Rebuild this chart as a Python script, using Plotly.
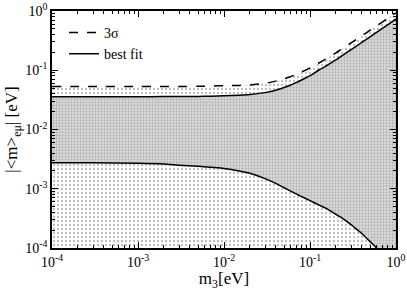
import plotly.graph_objects as go

# data
m3 = [1e-4, 3e-4, 1e-3, 2e-3, 3e-3, 5e-3, 0.007, 0.01, 0.015, 0.02, 0.03, 0.04, 0.05, 0.058, 0.07, 0.0766,
      0.1, 0.13, 0.15, 0.2, 0.223, 0.3, 0.333, 0.4, 0.5, 0.6, 0.8, 1.0]
best_upper = [0.0358, 0.0358, 0.0358, 0.0359, 0.0360, 0.0362, 0.0365, 0.037, 0.0378, 0.0388, 0.0419, 0.0458, 0.051,
              0.0554, 0.0624, 0.0664, 0.081, 0.103, 0.115, 0.150, 0.166, 0.222, 0.245, 0.295, 0.367, 0.44, 0.585, 0.733]
sigma_upper = [0.053, 0.053, 0.053, 0.0531, 0.0532, 0.0535, 0.054, 0.055, 0.0555, 0.0565, 0.060, 0.0655, 0.072,
               0.077, 0.086, 0.091, 0.11, 0.135, 0.152, 0.197, 0.218, 0.29, 0.32, 0.38, 0.475, 0.565, 0.75, 0.93]
best_lower = [0.00275, 0.00274, 0.0027, 0.00262, 0.0025, 0.0024, 0.0023, 0.0022, 0.002, 0.00182, 0.00148, 0.00123,
              0.00104, 0.00093, 0.00081, 0.00076, 0.00063, 0.000524, 0.000474, 0.000371, 0.000338, 0.000248, 0.000219,
              0.000176, 0.000128, 0.0000991, 0.0000645, 0.0000462]
floor = [1e-5] * len(m3)

xticks = [1e-4, 1e-3, 1e-2, 1e-1, 1]
xtick_text = ["10<sup>-4</sup>", "10<sup>-3</sup>", "10<sup>-2</sup>", "10<sup>-1</sup>", "10<sup>0</sup>"]
yticks = [1e-4, 1e-3, 1e-2, 1e-1, 1]
ytick_text = ["10<sup>-4</sup>", "10<sup>-3</sup>", "10<sup>-2</sup>", "10<sup>-1</sup>", "10<sup>0</sup>"]

minor_vals = [k * 10 ** e for e in range(-4, 0) for k in range(2, 10)]

sparse = dict(shape=".", size=4, solidity=0.25, fgcolor="#777777", bgcolor="white")
dense = dict(shape=".", size=3, solidity=0.45, fgcolor="#888888", bgcolor="#dedede")

fig = go.Figure()
fig.add_trace(go.Scatter(x=m3, y=floor, mode="lines", line=dict(width=0), showlegend=False, hoverinfo="skip"))
fig.add_trace(go.Scatter(x=m3, y=best_lower, mode="lines", line=dict(color="black", width=1.5, shape="spline", smoothing=0.6),
                         fill="tonexty", fillcolor="white", fillpattern=sparse, showlegend=False))
fig.add_trace(go.Scatter(x=m3, y=best_upper, mode="lines", line=dict(color="black", width=1.5, shape="spline", smoothing=0.6),
                         fill="tonexty", fillcolor="#dedede", fillpattern=dense, showlegend=False))
fig.add_trace(go.Scatter(x=m3, y=sigma_upper, mode="lines", line=dict(color="black", width=1.5, dash="dash", shape="spline", smoothing=0.6),
                         fill="tonexty", fillcolor="white", fillpattern=sparse, showlegend=False))
# legend entries
fig.add_trace(go.Scatter(x=[None], y=[None], mode="lines", name="3σ",
                         line=dict(color="black", width=1.5, dash="dash")))
fig.add_trace(go.Scatter(x=[None], y=[None], mode="lines", name="best fit",
                         line=dict(color="black", width=1.5)))

axis_common = dict(type="log", showgrid=False, zeroline=False, showline=True, linecolor="black", linewidth=1.5,
                   mirror="ticks", ticks="inside", ticklen=6, tickcolor="black", tickwidth=1, automargin=False,
                   tickfont=dict(family="Liberation Serif", size=14, color="black"),
                   minor=dict(tickvals=minor_vals, ticks="inside", ticklen=3, tickcolor="black", showgrid=False))

fig.update_xaxes(**axis_common, range=[-4, 0], tickvals=xticks, ticktext=xtick_text,
                 title=dict(text="m<sub>3</sub>[eV]", font=dict(family="Liberation Serif", size=17, color="black"), standoff=7))
fig.update_yaxes(**axis_common, range=[-4, 0], tickvals=yticks, ticktext=ytick_text,
                 title=dict(text="|<m><sub>eμ</sub>| [eV]", font=dict(family="Liberation Serif", size=17, color="black"), standoff=3))

fig.update_layout(width=407, height=291, margin=dict(l=52, r=11, t=11, b=43),
                  plot_bgcolor="white", paper_bgcolor="white",
                  legend=dict(x=0.035, y=0.975, xanchor="left", yanchor="top", bgcolor="rgba(0,0,0,0)",
                              traceorder="normal",
                              font=dict(family="Liberation Serif", size=14, color="black"),
                              tracegroupgap=0, itemwidth=30))
fig.write_html("out.html", config={"displayModeBar": False},
               post_script="document.body.style.margin='0px';")
